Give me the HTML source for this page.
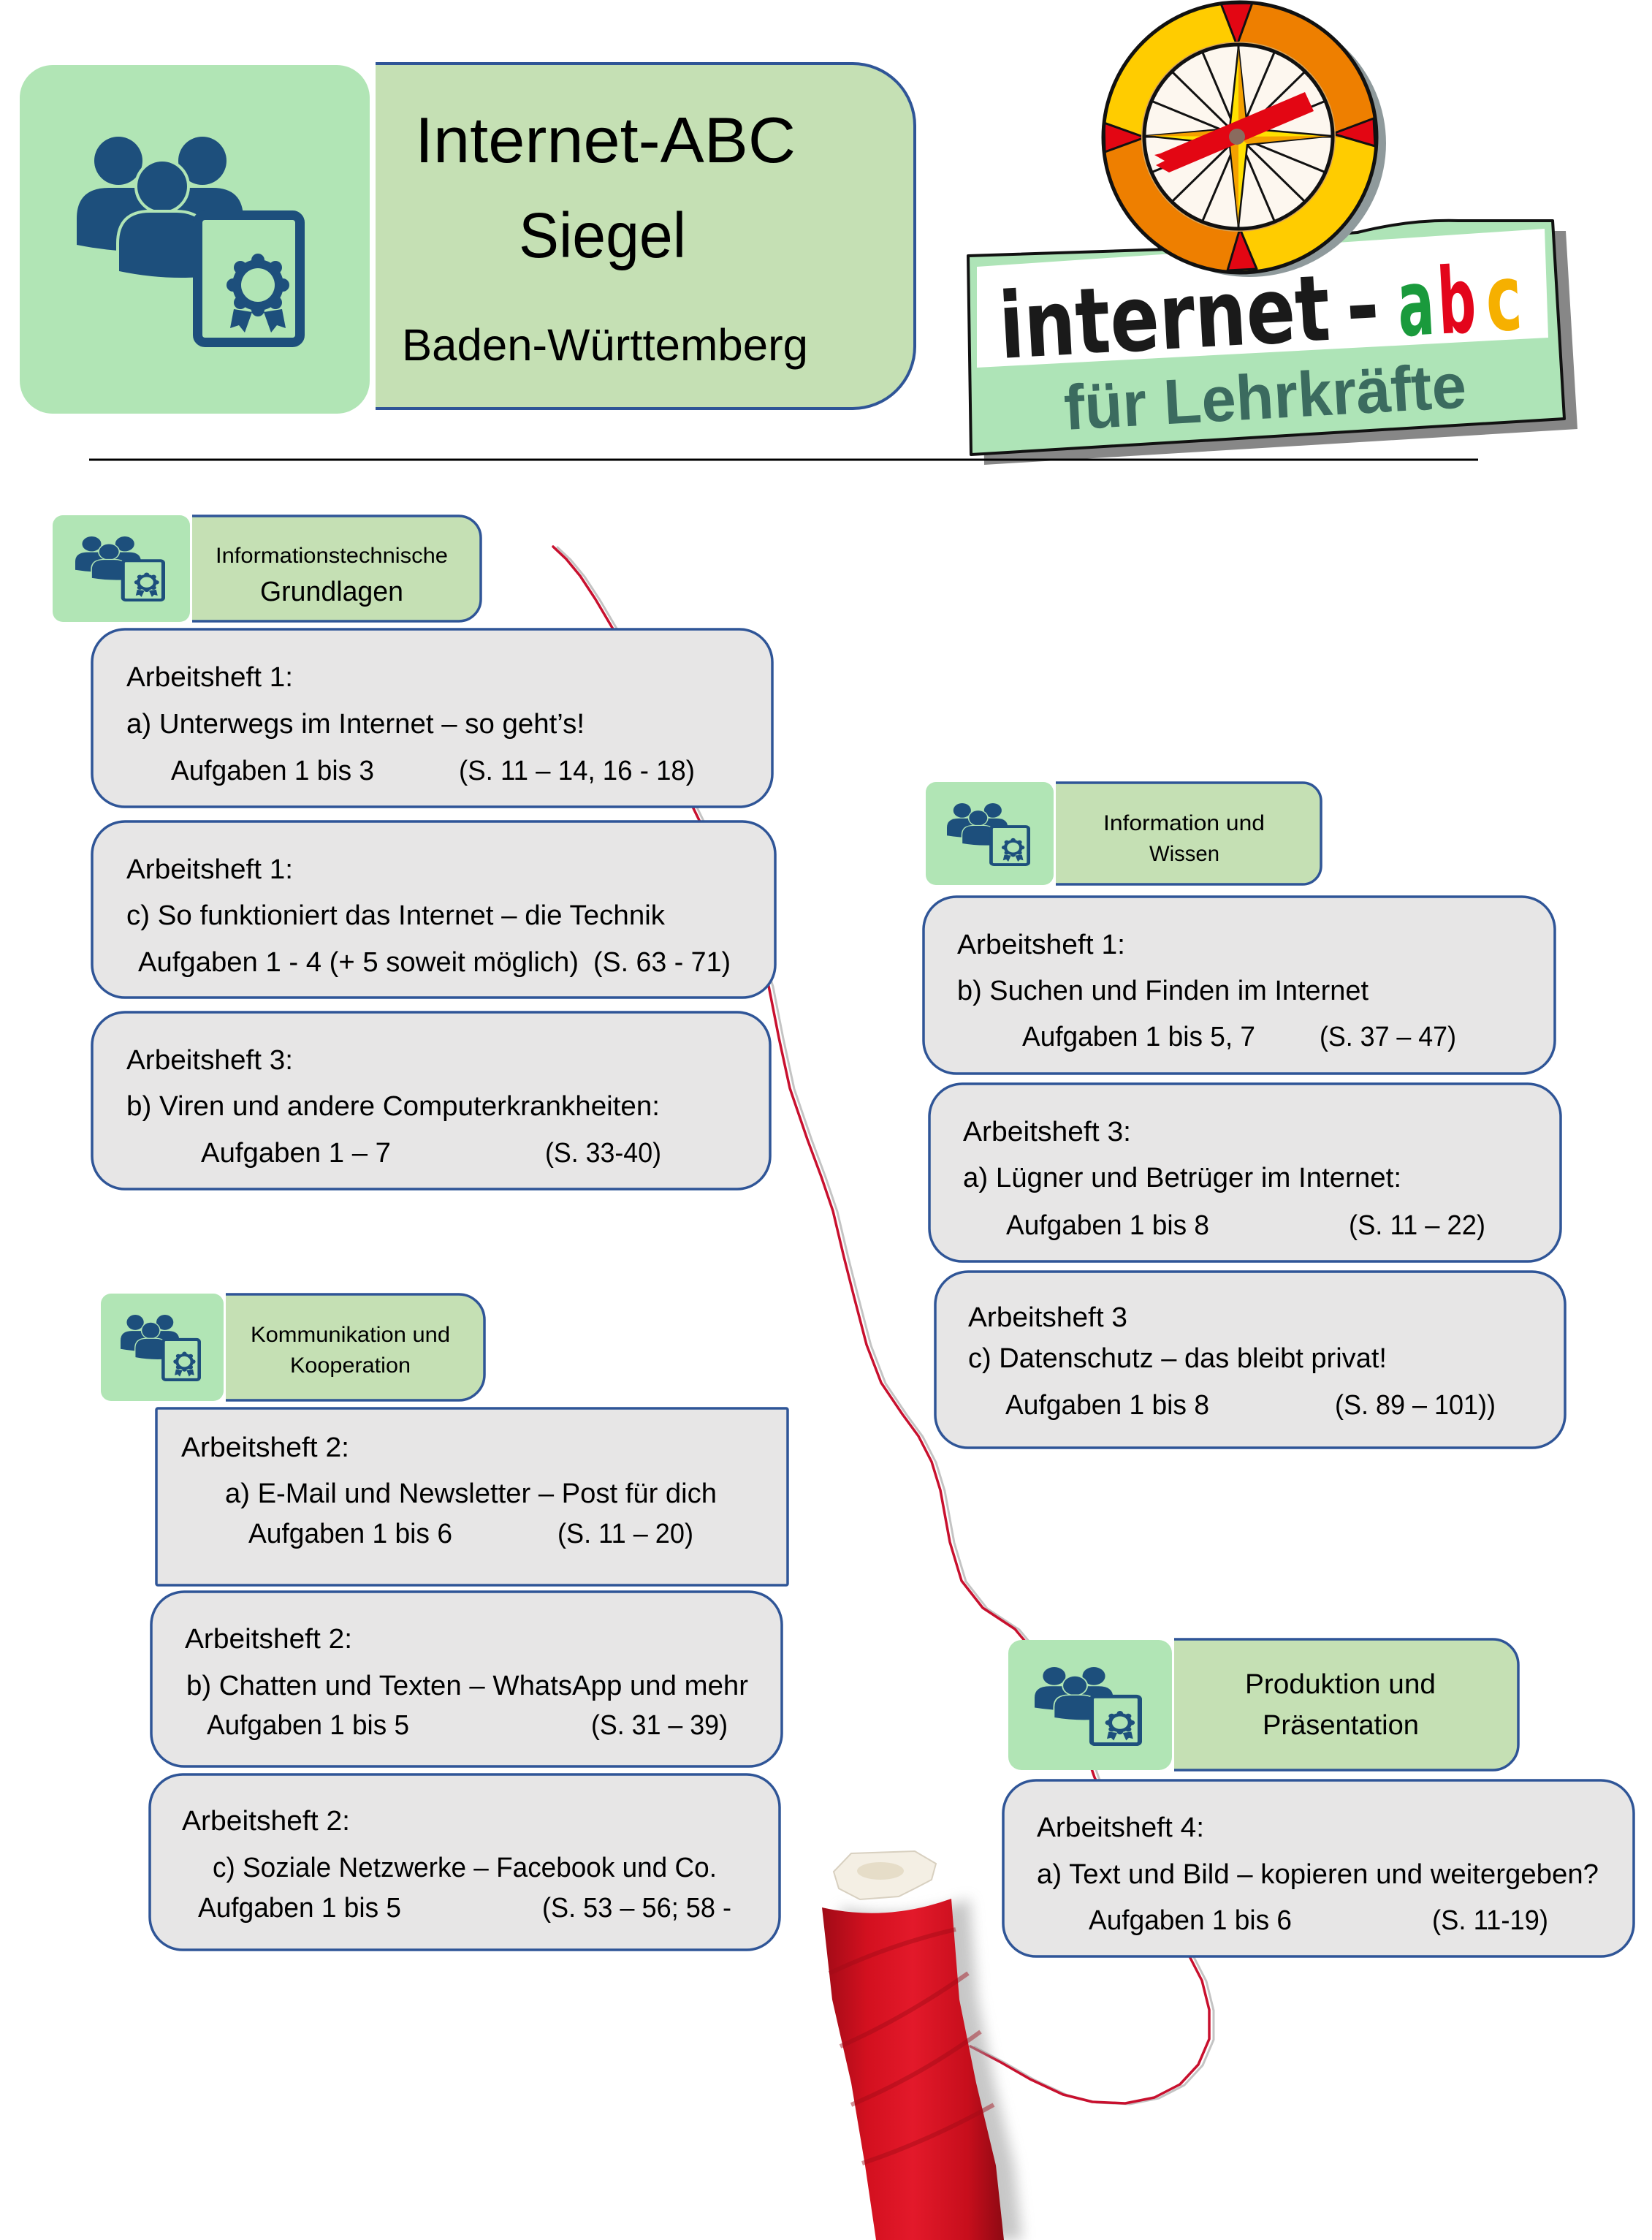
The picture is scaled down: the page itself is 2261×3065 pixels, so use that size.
<!DOCTYPE html>
<html><head><meta charset="utf-8">
<style>
html,body{margin:0;padding:0;background:#fff;}
svg{display:block;}
text{font-family:"Liberation Sans",Arial,sans-serif;fill:#000;}
.t{font-size:38px;}
.s{font-size:30px;}
</style></head>
<body>
<svg width="2261" height="3065" viewBox="0 0 2261 3065" xmlns="http://www.w3.org/2000/svg" xml:space="preserve">
<defs>
 <symbol id="ic" viewBox="0 0 312 288" preserveAspectRatio="none">
  <g fill="#1d4f7c">
   <circle cx="57" cy="33" r="33"/>
   <circle cx="172" cy="33" r="33"/>
   <path d="M0,148 L0,112 Q0,70 44,70 L100,70 L100,158 Q50,158 0,148 Z"/>
   <path d="M130,70 L186,70 Q228,70 228,112 L228,140 L130,140 Z"/>
   <g stroke="#b1e5b5" stroke-width="8" paint-order="stroke">
    <circle cx="117" cy="68" r="34"/>
    <path d="M58,184 L58,146 Q58,104 100,104 L136,104 Q160,104 172,118 L172,192 Q115,196 58,184 Z"/>
   </g>
  </g>
  <rect x="165.5" y="107.5" width="140" height="174" rx="10" fill="#b1e5b5" stroke="#1d4f7c" stroke-width="13"/>
  <g fill="#1d4f7c">
   <circle cx="248" cy="203" r="35"/>
   <circle cx="282" cy="203" r="9"/><circle cx="272" cy="227" r="9"/><circle cx="248" cy="237" r="9"/><circle cx="224" cy="227" r="9"/>
   <circle cx="214" cy="203" r="9"/><circle cx="224" cy="179" r="9"/><circle cx="248" cy="169" r="9"/><circle cx="272" cy="179" r="9"/>
   <polygon points="215,236 240,240 230,268 222,258 210,262"/>
   <polygon points="256,240 281,236 286,262 274,258 266,268"/>
  </g>
  <circle cx="248" cy="203" r="23" fill="#b1e5b5"/>
 </symbol>
 <linearGradient id="spg" x1="0" y1="0" x2="1" y2="0">
  <stop offset="0" stop-color="#a00b17"/>
  <stop offset="0.25" stop-color="#d3101f"/>
  <stop offset="0.5" stop-color="#e3192a"/>
  <stop offset="0.8" stop-color="#c70e1c"/>
  <stop offset="1" stop-color="#8e0913"/>
 </linearGradient>
 <filter id="bl" x="-0.3" y="-0.1" width="1.6" height="1.2"><feGaussianBlur stdDeviation="9"/></filter>
</defs>

<!-- ===== HEADER ===== -->
<rect x="27" y="89" width="479" height="477" rx="45" fill="#b1e5b5"/>
<use href="#ic" x="105" y="187" width="312" height="288"/>
<path d="M514,87 L1167,87 A85,85 0 0 1 1252,172 L1252,474 A85,85 0 0 1 1167,559 L514,559" fill="#c5e0b4" stroke="#2f5597" stroke-width="4"/>
<text x="568" y="222" font-size="88" textLength="521" lengthAdjust="spacingAndGlyphs">Internet-ABC</text>
<text x="710" y="352" font-size="87" textLength="229" lengthAdjust="spacingAndGlyphs">Siegel</text>
<text x="550" y="493" font-size="61" textLength="556" lengthAdjust="spacingAndGlyphs">Baden-Württemberg</text>

<!-- logo banner -->
<polygon points="1343,364 1876,332 2014,316 2143,316 2159,587 1347,636" fill="#878787"/>
<path d="M1325,350 L1600,341 L1858,318 Q1930,300 1996,302 L2125,302 L2141,573 L1329,622 Z" fill="#aee4b7" stroke="#111" stroke-width="4" stroke-linejoin="round"/>
<polygon points="1337,365 2114,313 2119,462 1337,503" fill="#fff"/>
<g transform="rotate(-3.2 1370 490)">
 <text x="1370" y="490" style="font-family:'DejaVu Sans',sans-serif;font-weight:bold;font-size:125px;fill:#1a1a1a" textLength="453" lengthAdjust="spacingAndGlyphs">internet</text>
 <text x="1845" y="490" style="font-family:'DejaVu Sans',sans-serif;font-weight:bold;font-size:125px;fill:#1a1a1a" textLength="46" lengthAdjust="spacingAndGlyphs">-</text>
 <text x="1916" y="490" style="font-family:'DejaVu Sans',sans-serif;font-weight:bold;font-size:125px;fill:#1a9a3c" textLength="50" lengthAdjust="spacingAndGlyphs">a</text>
 <text x="1971" y="490" style="font-family:'DejaVu Sans',sans-serif;font-weight:bold;font-size:125px;fill:#e3051b" textLength="52" lengthAdjust="spacingAndGlyphs">b</text>
 <text x="2037" y="490" style="font-family:'DejaVu Sans',sans-serif;font-weight:bold;font-size:125px;fill:#f6b000" textLength="49" lengthAdjust="spacingAndGlyphs">c</text>
</g>
<g transform="rotate(-3.2 1458 588)">
 <text x="1458" y="588" style="font-weight:bold;font-size:87px;fill:#3b6b5f" textLength="551" lengthAdjust="spacingAndGlyphs">für Lehrkräfte</text>
</g>

<!-- compass -->
<ellipse cx="1710" cy="196" rx="187" ry="183" fill="#8f9a9c"/>
<ellipse cx="1697" cy="188" rx="187" ry="185" fill="#ffcc00"/>
<path d="M1697,188 L1697,3 A187,185 0 0 1 1884,188 Z" fill="#ee7f00"/>
<path d="M1697,188 L1697,373 A187,185 0 0 1 1510,188 Z" fill="#ee7f00"/>
<g fill="#e30613" stroke="#111" stroke-width="3" stroke-linejoin="round">
 <polygon points="1671,5 1714,4 1693,62"/>
 <polygon points="1680,370 1720,368 1697,313"/>
 <polygon points="1511,168 1512,208 1567,188"/>
 <polygon points="1880,162 1882,200 1824,183"/>
</g>
<ellipse cx="1697" cy="188" rx="187" ry="185" fill="none" stroke="#111" stroke-width="5"/>
<ellipse cx="1695" cy="187" rx="133" ry="130" fill="#d9a55a"/>
<ellipse cx="1695" cy="187" rx="129" ry="126" fill="#fdf7ef" stroke="#111" stroke-width="5"/>
<g stroke="#111" stroke-width="3">
 <line x1="1822" y1="187" x2="1568" y2="187"/>
 <line x1="1812" y1="235" x2="1578" y2="139"/>
 <line x1="1785" y1="275" x2="1605" y2="99"/>
 <line x1="1744" y1="302" x2="1646" y2="72"/>
 <line x1="1695" y1="311" x2="1695" y2="63"/>
 <line x1="1646" y1="302" x2="1744" y2="72"/>
 <line x1="1605" y1="275" x2="1785" y2="99"/>
 <line x1="1578" y1="235" x2="1812" y2="139"/>
</g>
<polygon points="1695,64 1707,176 1822,186 1707,198 1695,310 1683,198 1568,186 1683,176" fill="#ffe100" stroke="#111" stroke-width="2.5" stroke-linejoin="round"/>
<g fill="#f4a000">
 <polygon points="1695,66 1706,176 1695,187"/>
 <polygon points="1820,186 1707,197 1695,187"/>
 <polygon points="1695,308 1684,198 1695,187"/>
 <polygon points="1570,186 1683,177 1695,187"/>
</g>
<polygon points="1588,210 1786,126 1798,152 1600,236 1582,226 1594,220 1580,212" fill="#e30613"/>
<circle cx="1693" cy="187" r="11" fill="#8a6b5e"/>

<line x1="122" y1="629" x2="2023" y2="629" stroke="#000" stroke-width="3"/>

<!-- ===== THREAD ===== -->
<g fill="none" stroke-linejoin="round" stroke-linecap="round">
<polyline stroke="#c4c4c4" stroke-width="3" transform="translate(6,1)" points="757,748 775,765 794,788 815,820 838,859 870,920 910,1010 949,1106 990,1190 1030,1280 1052,1349 1066,1420 1081,1489 1105,1559 1124,1610 1140,1657 1155,1720 1169,1775 1186,1840 1206,1892 1235,1935 1257,1965 1275,2000 1287,2039 1300,2110 1316,2163 1345,2200 1389,2229 1440,2290 1480,2380 1498,2432 1560,2560 1628,2677 1645,2710 1655,2750 1655,2790 1640,2825 1615,2852 1580,2870 1540,2878 1495,2876 1455,2866 1410,2845 1370,2822 1328,2800"/>
<polyline stroke="#c8102e" stroke-width="3.5" points="757,748 775,765 794,788 815,820 838,859 870,920 910,1010 949,1106 990,1190 1030,1280 1052,1349 1066,1420 1081,1489 1105,1559 1124,1610 1140,1657 1155,1720 1169,1775 1186,1840 1206,1892 1235,1935 1257,1965 1275,2000 1287,2039 1300,2110 1316,2163 1345,2200 1389,2229 1440,2290 1480,2380 1498,2432 1560,2560 1628,2677 1645,2710 1655,2750 1655,2790 1640,2825 1615,2852 1580,2870 1540,2878 1495,2876 1455,2866 1410,2845 1370,2822 1328,2800"/>
</g>

<!-- ===== SPOOL ===== -->
<path d="M1150,2610 Q1238,2630 1327,2598 L1338,2736 L1361,2850 L1388,2963 L1399,3065 L1224,3065 L1209,2963 L1190,2850 L1164,2736 Z" fill="#9a9a9a" opacity="0.55" filter="url(#bl)"/>
<path d="M1125,2610 Q1213,2630 1302,2598 L1313,2736 L1336,2850 L1363,2963 L1374,3065 L1199,3065 L1184,2963 L1165,2850 L1139,2736 Z" fill="url(#spg)"/>
<g stroke="#a00b17" stroke-width="6" opacity="0.45" fill="none">
 <path d="M1135,2700 Q1220,2660 1308,2640"/>
 <path d="M1150,2800 Q1240,2760 1325,2700"/>
 <path d="M1165,2880 Q1260,2840 1342,2780"/>
 <path d="M1180,2960 Q1270,2930 1360,2880"/>
</g>
<path d="M1141,2561 L1165,2536 L1252,2533 L1281,2550 L1275,2572 L1252,2584 L1230,2595 L1177,2599 L1148,2584 Z" fill="#f4efe4" stroke="#d8d0c0" stroke-width="2"/>
<ellipse cx="1205" cy="2560" rx="32" ry="12" fill="#e6ddc8"/>

<!-- ===== SECTION 1 ===== -->
<rect x="72" y="705" width="188" height="146" rx="14" fill="#b1e5b5"/>
<use href="#ic" x="103" y="734" width="123" height="89"/>
<path d="M263,706 L628,706 A30,30 0 0 1 658,736 L658,820 A30,30 0 0 1 628,850 L263,850" fill="#c5e0b4" stroke="#2f5597" stroke-width="3.5"/>
<text class="s" x="295" y="770" textLength="318" lengthAdjust="spacingAndGlyphs">Informationstechnische</text>
<text class="t" x="356" y="822" textLength="196" lengthAdjust="spacingAndGlyphs">Grundlagen</text>

<g fill="#e7e6e6" stroke="#2f5597" stroke-width="3.5">
 <rect x="126" y="861" width="931" height="243" rx="45"/>
 <rect x="126" y="1124" width="935" height="241" rx="45"/>
 <rect x="126" y="1385" width="928" height="242" rx="45"/>
</g>
<g class="t" font-size="38">
<text class="t" x="173" y="939" textLength="228" lengthAdjust="spacingAndGlyphs">Arbeitsheft 1:</text>
<text class="t" x="173" y="1003" textLength="627" lengthAdjust="spacingAndGlyphs">a) Unterwegs im Internet – so geht’s!</text>
<text class="t" x="234" y="1067" textLength="278" lengthAdjust="spacingAndGlyphs">Aufgaben 1 bis 3</text>
<text class="t" x="628" y="1067" textLength="323" lengthAdjust="spacingAndGlyphs">(S. 11 – 14, 16 - 18)</text>

<text class="t" x="173" y="1202" textLength="228" lengthAdjust="spacingAndGlyphs">Arbeitsheft 1:</text>
<text class="t" x="173" y="1265" textLength="737" lengthAdjust="spacingAndGlyphs">c) So funktioniert das Internet – die Technik</text>
<text class="t" x="189" y="1329" textLength="603" lengthAdjust="spacingAndGlyphs">Aufgaben 1  - 4 (+ 5 soweit möglich)</text>
<text class="t" x="812" y="1329" textLength="188" lengthAdjust="spacingAndGlyphs">(S. 63 -  71)</text>

<text class="t" x="173" y="1463" textLength="228" lengthAdjust="spacingAndGlyphs">Arbeitsheft 3:</text>
<text class="t" x="173" y="1526" textLength="730" lengthAdjust="spacingAndGlyphs">b) Viren und andere Computerkrankheiten:</text>
<text class="t" x="275" y="1590" textLength="260" lengthAdjust="spacingAndGlyphs">Aufgaben  1 – 7</text>
<text class="t" x="746" y="1590" textLength="159" lengthAdjust="spacingAndGlyphs">(S. 33-40)</text>
</g>

<!-- ===== SECTION 2 ===== -->
<rect x="1267" y="1070" width="175" height="141" rx="14" fill="#b1e5b5"/>
<use href="#ic" x="1296" y="1099" width="114" height="86"/>
<path d="M1445,1071 L1783,1071 A25,25 0 0 1 1808,1096 L1808,1185 A25,25 0 0 1 1783,1210 L1445,1210" fill="#c5e0b4" stroke="#2f5597" stroke-width="3.5"/>
<text class="s" x="1510" y="1136" textLength="221" lengthAdjust="spacingAndGlyphs">Information und</text>
<text class="s" x="1573" y="1178" textLength="96" lengthAdjust="spacingAndGlyphs">Wissen</text>

<g fill="#e7e6e6" stroke="#2f5597" stroke-width="3.5">
 <rect x="1264" y="1227" width="864" height="242" rx="45"/>
 <rect x="1272" y="1483" width="864" height="243" rx="45"/>
 <rect x="1280" y="1740" width="862" height="241" rx="45"/>
</g>
<text class="t" x="1310" y="1305" textLength="230" lengthAdjust="spacingAndGlyphs">Arbeitsheft 1:</text>
<text class="t" x="1310" y="1368" textLength="563" lengthAdjust="spacingAndGlyphs">b) Suchen und Finden im Internet</text>
<text class="t" x="1399" y="1431" textLength="319" lengthAdjust="spacingAndGlyphs">Aufgaben 1 bis 5, 7</text>
<text class="t" x="1806" y="1431" textLength="187" lengthAdjust="spacingAndGlyphs">(S. 37 – 47)</text>

<text class="t" x="1318" y="1561" textLength="230" lengthAdjust="spacingAndGlyphs">Arbeitsheft 3:</text>
<text class="t" x="1318" y="1624" textLength="600" lengthAdjust="spacingAndGlyphs">a) Lügner und Betrüger im Internet:</text>
<text class="t" x="1377" y="1689" textLength="278" lengthAdjust="spacingAndGlyphs">Aufgaben 1 bis 8</text>
<text class="t" x="1846" y="1689" textLength="187" lengthAdjust="spacingAndGlyphs">(S. 11 – 22)</text>

<text class="t" x="1325" y="1815" textLength="218" lengthAdjust="spacingAndGlyphs">Arbeitsheft 3</text>
<text class="t" x="1325" y="1871" textLength="573" lengthAdjust="spacingAndGlyphs">c) Datenschutz – das bleibt privat!</text>
<text class="t" x="1376" y="1935" textLength="279" lengthAdjust="spacingAndGlyphs">Aufgaben 1 bis 8</text>
<text class="t" x="1827" y="1935" textLength="220" lengthAdjust="spacingAndGlyphs">(S. 89 – 101))</text>

<!-- ===== SECTION 3 ===== -->
<rect x="138" y="1770" width="168" height="147" rx="14" fill="#b1e5b5"/>
<use href="#ic" x="165" y="1799" width="110" height="91"/>
<path d="M309,1771 L628,1771 A35,35 0 0 1 663,1806 L663,1881 A35,35 0 0 1 628,1916 L309,1916" fill="#c5e0b4" stroke="#2f5597" stroke-width="3.5"/>
<text class="s" x="343" y="1836" textLength="273" lengthAdjust="spacingAndGlyphs">Kommunikation und</text>
<text class="s" x="397" y="1878" textLength="165" lengthAdjust="spacingAndGlyphs">Kooperation</text>

<g fill="#e7e6e6" stroke="#2f5597" stroke-width="3.5">
 <rect x="214" y="1927" width="864" height="242" rx="2"/>
 <rect x="207" y="2178" width="863" height="239" rx="45"/>
 <rect x="205" y="2428" width="862" height="240" rx="45"/>
</g>
<text class="t" x="248" y="1993" textLength="230" lengthAdjust="spacingAndGlyphs">Arbeitsheft 2:</text>
<text class="t" x="308" y="2056" textLength="673" lengthAdjust="spacingAndGlyphs">a) E-Mail und Newsletter – Post für dich</text>
<text class="t" x="340" y="2111" textLength="279" lengthAdjust="spacingAndGlyphs">Aufgaben 1 bis 6</text>
<text class="t" x="763" y="2111" textLength="186" lengthAdjust="spacingAndGlyphs">(S. 11 – 20)</text>

<text class="t" x="253" y="2255" textLength="229" lengthAdjust="spacingAndGlyphs">Arbeitsheft 2:</text>
<text class="t" x="255" y="2319" textLength="769" lengthAdjust="spacingAndGlyphs">b) Chatten und Texten – WhatsApp und mehr</text>
<text class="t" x="283" y="2373" textLength="277" lengthAdjust="spacingAndGlyphs">Aufgaben 1 bis 5</text>
<text class="t" x="809" y="2373" textLength="187" lengthAdjust="spacingAndGlyphs">(S. 31 – 39)</text>

<text class="t" x="249" y="2504" textLength="230" lengthAdjust="spacingAndGlyphs">Arbeitsheft 2:</text>
<text class="t" x="291" y="2568" textLength="690" lengthAdjust="spacingAndGlyphs">c) Soziale Netzwerke – Facebook und Co.</text>
<text class="t" x="271" y="2623" textLength="278" lengthAdjust="spacingAndGlyphs">Aufgaben 1 bis 5</text>
<text class="t" x="742" y="2623" textLength="259" lengthAdjust="spacingAndGlyphs">(S. 53 – 56; 58 -</text>

<!-- ===== SECTION 4 ===== -->
<rect x="1380" y="2244" width="224" height="178" rx="18" fill="#b1e5b5"/>
<use href="#ic" x="1416" y="2281" width="147" height="108"/>
<path d="M1607,2243 L2043,2243 A35,35 0 0 1 2078,2278 L2078,2387 A35,35 0 0 1 2043,2422 L1607,2422" fill="#c5e0b4" stroke="#2f5597" stroke-width="3.5"/>
<text class="t" x="1704" y="2317" textLength="261" lengthAdjust="spacingAndGlyphs">Produktion und</text>
<text class="t" x="1728" y="2373" textLength="214" lengthAdjust="spacingAndGlyphs">Präsentation</text>

<rect x="1373" y="2436" width="863" height="241" rx="45" fill="#e7e6e6" stroke="#2f5597" stroke-width="3.5"/>
<text class="t" x="1419" y="2513" textLength="229" lengthAdjust="spacingAndGlyphs">Arbeitsheft 4:</text>
<text class="t" x="1419" y="2577" textLength="769" lengthAdjust="spacingAndGlyphs">a) Text und Bild – kopieren und weitergeben?</text>
<text class="t" x="1490" y="2640" textLength="278" lengthAdjust="spacingAndGlyphs">Aufgaben 1 bis 6</text>
<text class="t" x="1960" y="2640" textLength="159" lengthAdjust="spacingAndGlyphs">(S. 11-19)</text>
</svg>
</body></html>
